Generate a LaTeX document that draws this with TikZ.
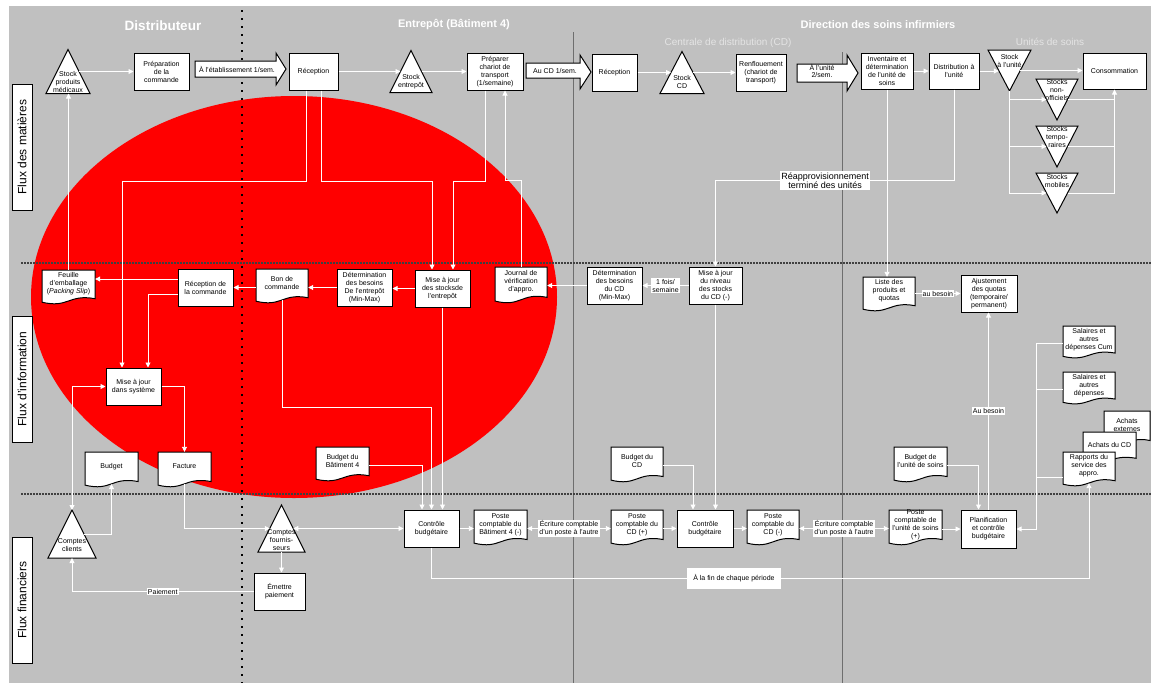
\documentclass[tikz,border=0pt]{standalone}
\usepackage{fontspec}
\setmainfont{Liberation Sans}
\usepackage{tikz}
\usetikzlibrary{calc, arrows.meta, positioning}
\definecolor{laneGray}{HTML}{C0C0C0}
\definecolor{blobRed}{HTML}{FF0000}
\definecolor{sepGray}{HTML}{6E6E6E}
\definecolor{dashGray}{HTML}{404040}
\definecolor{headLight}{HTML}{E4E4E4}

% document shape: name, left x, top y, width, height, text
\newcommand{\docnode}[6]{%
  \filldraw[docline] (#2,#3) -- (#2+#4,#3) -- (#2+#4,#3+0.82*#5)
    .. controls (#2+0.5*#4,#3+0.68*#5) and (#2+0.5*#4,#3+1.1*#5) .. (#2,#3+0.92*#5) -- cycle;
  \node[doctext, minimum width=#4pt, minimum height=0.8*#5pt] (#1) at (#2+0.5*#4,#3+0.4*#5) {#6};
  \coordinate (#1-b) at (#2+0.5*#4,#3+0.89*#5);
}
% stock triangle (apex up): name, cx, cy, width, height, text shift, text
\newcommand{\stocktri}[7]{%
  \node[trinode, minimum width=#4pt, minimum height=#5pt] (#1) at (#2,#3) {};
  \filldraw[triline] (#1.north) -- (#1.south east) -- (#1.south west) -- cycle;
  \node[tritext] (#1-t) at ([yshift=#6pt]#1.center) {#7};
  \coordinate (#1-l) at ($(#1.north)!.5!(#1.south west)$);
  \coordinate (#1-r) at ($(#1.north)!.5!(#1.south east)$);
}
% stock triangle (apex down)
\newcommand{\unittri}[7]{%
  \node[trinode, minimum width=#4pt, minimum height=#5pt] (#1) at (#2,#3) {};
  \filldraw[triline] (#1.south) -- (#1.north east) -- (#1.north west) -- cycle;
  \node[tritext] (#1-t) at ([yshift=#6pt]#1.center) {#7};
  \coordinate (#1-l) at ($(#1.south)!.5!(#1.north west)$);
  \coordinate (#1-r) at ($(#1.south)!.5!(#1.north east)$);
}

\begin{document}
\begin{tikzpicture}[x=1pt, y=-1pt,
        box/.style={rectangle, draw=black, fill=white, line width=1pt, font=\fontsize{7}{8}\selectfont, align=center, inner sep=1pt},
        docline/.style={draw=black, fill=white, line width=1pt},
        doctext/.style={rectangle, font=\fontsize{7}{8}\selectfont, align=center, inner sep=0pt},
        trinode/.style={rectangle, inner sep=0pt, outer sep=0pt},
        triline/.style={draw=black, fill=white, line width=1pt},
        tritext/.style={font=\fontsize{7}{8}\selectfont, align=center, inner sep=0pt},
        blkarrow/.style={draw=black, fill=white, line width=1pt},
        blktext/.style={font=\fontsize{7}{7.5}\selectfont, align=center, inner sep=0pt},
        lane/.style={rectangle, draw=black, fill=white, line width=1pt, rotate=90, minimum width=126pt, minimum height=20pt, inner sep=0pt, font=\fontsize{12}{14}\selectfont},
        headbig/.style={text=white, font=\fontsize{13.5}{16}\selectfont\bfseries},
        headmid/.style={text=white, font=\fontsize{11}{13}\selectfont\bfseries},
        headsub/.style={text=headLight, font=\fontsize{10}{12}\selectfont},
        flow/.style={draw=white, line width=0.9pt, -{Triangle[width=5pt,length=5pt]}},
        flowtwo/.style={draw=white, line width=0.9pt, {Triangle[width=5pt,length=5pt]}-{Triangle[width=5pt,length=5pt]}},
        wire/.style={draw=white, line width=0.9pt},
        lbl/.style={rectangle, fill=white, font=\fontsize{7}{8}\selectfont, align=center, inner sep=1pt},
        sepline/.style={draw=sepGray, line width=0.9pt},
        dotline/.style={draw=black, line width=1.5pt, dash pattern=on 1.5pt off 6.5pt},
        laneline/.style={draw=dashGray, line width=1.3pt, dash pattern=on 2pt off 1pt}]

        \useasboundingbox (0,0) rectangle (1151,683);

        % Background and red blob
        \fill[laneGray] (9,6) rectangle (1151,683);
        \fill[blobRed] (294,297) ellipse [x radius=263pt, y radius=201pt];

        % Separators
        \draw[sepline] (573,32) -- (573,683);
        \draw[sepline] (842,52) -- (842,683);
        \draw[dotline] (242,10) -- (242,683);
        \draw[laneline] (21,263) -- (1151,263);
        \draw[laneline] (21,494) -- (1151,494);

        % Headings
        \node[headbig] (hdist) at (163,26) {Distributeur};
        \node[headmid] (hent) at (454,25) {Entrepôt (Bâtiment 4)};
        \node[headmid] (hdir) at (878,25) {Direction des soins infirmiers};
        \node[headsub] (hcd) at (728,43) {Centrale de distribution (CD)};
        \node[headsub] (hunit) at (1050,42) {Unités de soins};

        % Lanes
        \node[lane] (lmat) at (22,147) {Flux des matières};
        \node[lane] (linfo) at (22,379) {Flux d'information};
        \node[lane] (lfin) at (22,600) {Flux financiers};

        % Lane 1: material flow
        \stocktri{stkmed}{68}{71.5}{44}{44}{-10}{Stock\\produits\\médicaux}
        \node[box, minimum width=55pt, minimum height=37pt] (prep) at (161.5,71.5) {Préparation\\de la\\commande};
        \filldraw[blkarrow] (195,61) -- (276,61) -- (276,53) -- (286,69) -- (276,85) -- (276,77) -- (195,77) -- cycle;
        \node[blktext] (blketab) at (237,69) {À l'établissement 1/sem.};
        \node[box, minimum width=49pt, minimum height=37pt] (recep) at (313.5,71.5) {Réception};
        \stocktri{stkent}{411}{71.5}{42}{42}{-10.5}{Stock\\entrepôt}
        \node[box, minimum width=56pt, minimum height=37pt] (prepchar) at (495,71.5) {Préparer\\chariot de\\transport\\(1/semaine)};
        \filldraw[blkarrow] (526,63) -- (580,63) -- (580,55) -- (591,72) -- (580,89) -- (580,78) -- (526,78) -- cycle;
        \node[blktext] (blkcd) at (555,70.5) {Au CD 1/sem.};
        \node[box, minimum width=45pt, minimum height=37pt] (recepcd) at (614.5,72.5) {Réception};
        \stocktri{stkcd}{682}{72.5}{44}{42}{-9.5}{Stock\\CD}
        \node[box, minimum width=50pt, minimum height=37pt] (renfl) at (761,72.5) {Renflouement\\(chariot de\\transport)};
        \filldraw[blkarrow] (797,64) -- (847,64) -- (847,55) -- (858,73) -- (847,91) -- (847,82) -- (797,82) -- cycle;
        \node[blktext] (blkunit) at (822,71) {À l'unité\\2/sem.};
        \node[box, minimum width=52pt, minimum height=36pt] (invent) at (887,71) {Inventaire et\\détermination\\de l'unité de\\soins};
        \node[box, minimum width=50pt, minimum height=36pt] (distrib) at (954,71) {Distribution à\\l'unité};
        \unittri{stkunit}{1009.5}{70.5}{43}{41}{10}{Stock\\à l'unité}
        \node[box, minimum width=63pt, minimum height=36pt] (conso) at (1114.5,71) {Consommation};
        \unittri{nonoff}{1057}{99.5}{42}{41}{10}{Stocks\\non-\\officiels}
        \unittri{tempo}{1057}{146.5}{42}{41}{9.5}{Stocks\\tempo-\\raires}
        \unittri{mobil}{1057}{193}{42}{40}{12}{Stocks\\mobiles}

        % Lane 2: information flow
        \docnode{feuille}{42}{270}{53}{35}{Feuille\\d'emballage\\(\textit{Packing Slip})}
        \node[box, minimum width=55pt, minimum height=37pt] (recepcmd) at (205.5,287.5) {Réception de\\la commande};
        \docnode{boncmd}{256}{269}{52}{35}{Bon de\\commande}
        \node[box, minimum width=55pt, minimum height=37pt] (determent) at (364.5,287.5) {Détermination\\des besoins\\De l'entrepôt\\(Min-Max)};
        \node[box, minimum width=55pt, minimum height=37pt] (majent) at (442.5,288.5) {Mise à jour\\des stocksde\\l'entrepôt};
        \docnode{journal}{495}{267}{52}{37}{Journal de\\vérification\\d'appro.}
        \node[box, minimum width=55pt, minimum height=37pt] (detcd) at (614.5,285.5) {Détermination\\des besoins\\du CD\\(Min-Max)};
        \node[box, minimum width=53pt, minimum height=37pt] (majcd) at (715.5,285.5) {Mise à jour\\du niveau\\des stocks\\du CD (-)};
        \docnode{liste}{863}{277}{52}{35}{Liste des\\produits et\\quotas}
        \node[box, minimum width=56pt, minimum height=37pt] (ajust) at (989,293.5) {Ajustement\\des quotas\\(temporaire/\\permanent)};
        \docnode{salcum}{1063}{326}{52}{33}{Salaires et\\autres\\dépenses Cum}
        \docnode{sal}{1063}{372}{52}{33}{Salaires et\\autres\\dépenses}
        \docnode{achext}{1104}{411}{46}{36}{Achats\\externes}
        \docnode{achcd}{1083}{432}{53}{32}{Achats du CD}
        \docnode{rapports}{1063}{452}{52}{35}{Rapports du\\service des\\appro.}
        \node[box, minimum width=55pt, minimum height=37pt] (majsys) at (133.5,386.5) {Mise à jour\\dans système};
        \docnode{budget}{85}{452}{53}{36}{Budget}
        \docnode{facture}{158}{452}{53}{36}{Facture}
        \docnode{budbat}{316}{447}{53}{35}{Budget du\\Bâtiment 4}
        \docnode{budcd}{611}{447}{52}{36}{Budget du\\CD}
        \docnode{budunit}{894}{447}{53}{36}{Budget de\\l'unité de soins}

        % Lane 3: financial flow
        \stocktri{cptcli}{72}{534}{48}{48}{-11}{Comptes\\clients}
        \stocktri{cptfou}{281.5}{528.5}{47}{47}{-11.5}{Comptes\\fournis-\\seurs}
        \node[box, minimum width=51pt, minimum height=37pt] (emettre) at (279.5,591.5) {Émettre\\paiement};
        \node[box, minimum width=55pt, minimum height=37pt] (ctrlbat) at (431.5,528.5) {Contrôle\\budgétaire};
        \docnode{postebat}{474}{510}{53}{36}{Poste\\comptable du\\Bâtiment 4 (-)}
        \docnode{postecdp}{611}{510}{52}{36}{Poste\\comptable du\\CD (+)}
        \node[box, minimum width=56pt, minimum height=37pt] (ctrlcd) at (705,528.5) {Contrôle\\budgétaire};
        \docnode{postecdm}{747}{510}{52}{36}{Poste\\comptable du\\CD (-)}
        \docnode{posteunit}{889}{510}{53}{36}{Poste\\comptable de\\l'unité de soins\\(+)}
        \node[box, minimum width=55pt, minimum height=38pt] (planif) at (988.5,529) {Planification\\et contrôle\\budgétaire};

        % Arrows: material flow
        \draw[flow] (stkmed-r) -- (stkmed-r -| prep.west);
        \draw[flow] (recep.east) -- (recep.east -| stkent-l);
        \draw[flow] (stkent-r) -- (stkent-r -| prepchar.west);
        \draw[flow] (recepcd.east) -- (recepcd.east -| stkcd-l);
        \draw[flow] (stkcd-r) -- (stkcd-r -| renfl.west);
        \draw[flow] (invent.east) -- (distrib.west);
        \draw[flow] (distrib.east) -- (distrib.east -| stkunit-l);
        \draw[flow] (stkunit-r) -- (stkunit-r -| conso.west);
        \draw[flow] (stkunit.south) |- (mobil-l);
        \draw[flow] (stkunit.south |- nonoff-l) -- (nonoff-l);
        \draw[flow] (stkunit.south |- tempo-l) -- (tempo-l);
        \draw[wire] (nonoff-r) -- (nonoff-r -| conso.south);
        \draw[wire] (tempo-r) -- (tempo-r -| conso.south);
        \draw[flow] (mobil-r) -| (conso.south);

        % Arrows: between material and information
        \draw[flow] (feuille.north) -- (feuille.north |- stkmed.south);
        \draw[flow] ([xshift=-7.5pt]recep.south) -- ++(0,91) -| ([xshift=-11.5pt]majsys.north);
        \draw[flow] ([xshift=7.5pt]recep.south) -- ++(0,91) -| ([xshift=-10.5pt]majent.north);
        \draw[flow] ([xshift=-10pt]prepchar.south) -- ++(0,91) -| ([xshift=10.5pt]majent.north);
        \draw[flow] (journal.north) -- ++(0,-86) -| ([xshift=10pt]prepchar.south);
        \draw[flow] (invent.south) -- (invent.south |- liste.north);
        \draw[flow] (distrib.south) -- ++(0,91) -| node[lbl, pos=0.27, font=\fontsize{9}{9.5}\selectfont] (reappro) {Réapprovisionnement\\terminé des unités} (majcd.north);

        % Arrows: information flow
        \draw[flow] ([yshift=8.5pt]recepcmd.west) -- ([yshift=8.5pt]recepcmd.west -| feuille.east);
        \draw[flow] (boncmd.west |- recepcmd.east) -- (recepcmd.east);
        \draw[flow] (determent.west) -- (determent.west -| boncmd.east);
        \draw[flow] (majent.west) -- (majent.west -| determent.east);
        \draw[flow] (detcd.west) -- (detcd.west -| journal.east);
        \draw[flow] (majcd.west) -- node[lbl] (hebdo) {1 fois/\\semaine} (detcd.east);
        \draw[flow] ([yshift=-6.5pt]recepcmd.west) -| ([xshift=14.5pt]majsys.north);
        \draw[flow] (majsys.east) -| (facture.north);
        \draw[flowtwo] (majsys.west) -| (cptcli.north);
        \draw[flow] (cptcli-r) -| (budget-b);
        \draw[flow] (liste.east |- ajust.west) -- node[lbl] (besoinA) {au besoin} (ajust.west);

        % Arrows: financial flow
        \draw[flow] (facture-b) |- (cptfou-l);
        \draw[flowtwo] (cptfou-r) -- (cptfou-r -| ctrlbat.west);
        \draw[flow] (cptfou.south) -- (cptfou.south |- emettre.north);
        \draw[flow] (emettre.west) -| node[lbl, pos=0.25] (paie) {Paiement} (cptcli.south);
        \draw[flow] ([yshift=-4pt]budbat.east) -| ([xshift=-9.5pt]ctrlbat.north);
        \draw[flow] (boncmd-b) -- ++(0,107) -| (ctrlbat.north);
        \draw[flow] (majent.south) -- (majent.south |- ctrlbat.north);
        \draw[flow] (ctrlbat.east) -- (ctrlbat.east -| postebat.west);
        \draw[flowtwo] (postebat.east |- ctrlbat.east) -- node[lbl] (ecritA) {Écriture comptable\\d'un poste à l'autre} (postecdp.west |- ctrlbat.east);
        \draw[flow] (postecdp.east |- ctrlcd.west) -- (ctrlcd.west);
        \draw[flow] (ctrlcd.east) -- (ctrlcd.east -| postecdm.west);
        \draw[flowtwo] (postecdm.east |- ctrlcd.east) -- node[lbl] (ecritB) {Écriture comptable\\d'un poste à l'autre} (posteunit.west |- ctrlcd.east);
        \draw[flow] (posteunit.east |- planif.west) -- (planif.west);
        \draw[flow] ([yshift=-4pt]budcd.east) -| ([xshift=-12pt]ctrlcd.north);
        \draw[flow] (majcd.south) -- (majcd.south |- ctrlcd.north);
        \draw[flow] ([yshift=-4pt]budunit.east) -| ([xshift=-10pt]planif.north);
        \draw[flow] (planif.north) -- node[lbl] (besoinB) {Au besoin} (planif.north |- ajust.south);
        \draw[flow] ([yshift=-4pt]salcum.west) -- ++(-26,0) |- (planif.east);
        \draw[wire] ([yshift=-4pt]sal.west) -- ++(-26,0);
        \draw[wire] ([yshift=-11pt]rapports.west) -- ++(-26,0);
        \draw[flow] (ctrlbat.south) -- ++(0,31) -| node[lbl, pos=0.23, inner xsep=6pt, inner ysep=7pt] (finper) {À la fin de chaque période} (rapports-b);
    \end{tikzpicture}
\end{document}
